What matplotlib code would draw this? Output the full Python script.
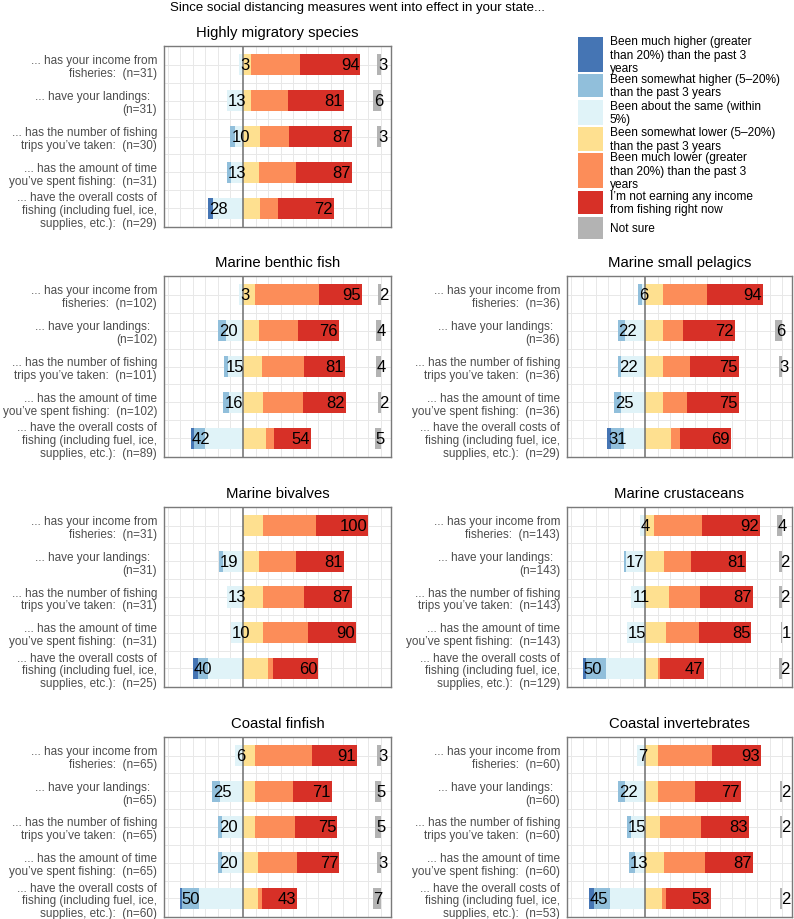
import matplotlib
matplotlib.use('Agg')
import matplotlib.pyplot as plt
from matplotlib.patches import Rectangle
import numpy as np

plt.rcParams['font.family'] = ['Liberation Sans', 'DejaVu Sans']

W, H = 794, 920

main_title = "Since social distancing measures went into effect in your state..."

levels = [
    "Been much higher (greater\nthan 20%) than the past 3\nyears",
    "Been somewhat higher (5\u201320%)\nthan the past 3 years",
    "Been about the same (within\n5%)",
    "Been somewhat lower (5\u201320%)\nthan the past 3 years",
    "Been much lower (greater\nthan 20%) than the past 3\nyears",
    "I\u2019m not earning any income\nfrom fishing right now",
    "Not sure",
]
colors = ['#4575b4', '#91bfdb', '#e0f3f8', '#fee090', '#fc8d59', '#d73027', '#b3b3b3']

questions = [
    "... has your income from\nfisheries:  (n={})",
    "... have your landings:  \n(n={})",
    "... has the number of fishing\ntrips you\u2019ve taken:  (n={})",
    "... has the amount of time\nyou\u2019ve spent fishing:  (n={})",
    "... have the overall costs of\nfishing (including fuel, ice,\nsupplies, etc.):  (n={})",
]

panel_titles = ["Highly migratory species", "Marine benthic fish", "Marine small pelagics",
                "Marine bivalves", "Marine crustaceans", "Coastal finfish", "Coastal invertebrates"]

# n per question, per panel
n_hm = [31, 31, 30, 31, 29]
n_mbf = [102, 102, 101, 102, 89]
n_msp = [36, 36, 36, 36, 29]
n_mb = [31, 31, 31, 31, 25]
n_mc = [143, 143, 143, 143, 129]
n_cf = [65, 65, 65, 65, 60]
n_ci = [60, 60, 60, 60, 53]

# percentages: much higher, somewhat higher, same, somewhat lower, much lower, not earning, not sure
pct_hm = [
    [0, 0, 3.2, 6.5, 38.7, 48.4, 3.2],
    [0, 0, 12.9, 6.5, 29.0, 45.2, 6.4],
    [0, 3.3, 6.7, 13.3, 23.3, 50.0, 3.3],
    [0, 3.2, 9.7, 12.9, 29.0, 45.2, 0],
    [3.4, 0, 24.2, 13.8, 13.8, 44.8, 0],
]
pct_mbf = [
    [0, 0, 2.9, 9.8, 51.0, 34.3, 2.0],
    [0, 5.9, 13.7, 12.7, 31.4, 32.2, 3.9],
    [0, 3.0, 11.9, 14.9, 33.7, 32.7, 4.0],
    [0, 4.9, 10.8, 15.7, 32.4, 34.0, 2.0],
    [2.2, 9.0, 30.4, 18.0, 6.7, 29.2, 5.0],
]
pct_msp = [
    [0, 2.8, 2.8, 13.9, 36.1, 44.4, 0],
    [0, 5.6, 16.7, 13.9, 16.7, 41.7, 5.6],
    [0, 2.8, 19.4, 13.9, 22.2, 38.9, 2.8],
    [0, 5.6, 19.4, 13.9, 19.4, 41.7, 0],
    [3.4, 10.3, 17.2, 20.7, 6.9, 41.4, 0],
]
pct_mb = [
    [0, 0, 0, 16.1, 41.9, 41.9, 0],
    [0, 3.2, 16.1, 12.9, 29.0, 38.7, 0],
    [0, 0, 12.9, 16.1, 32.3, 38.7, 0],
    [0, 0, 9.7, 16.1, 35.5, 38.7, 0],
    [4.0, 8.0, 28.0, 20.0, 4.0, 36.0, 0],
]
pct_mc = [
    [0, 0, 4.2, 7.0, 38.5, 46.9, 4.2],
    [0, 1.4, 15.4, 14.7, 21.7, 44.8, 2.1],
    [0, 0, 11.2, 18.9, 25.2, 42.7, 2.1],
    [0, 0, 15.0, 16.8, 26.6, 42.0, 0.7],
    [2.3, 16.3, 31.8, 10.1, 1.6, 35.7, 2.3],
]
pct_cf = [
    [0, 0, 6.2, 9.2, 46.2, 35.4, 3.1],
    [0, 6.2, 18.5, 9.2, 30.8, 30.8, 4.6],
    [0, 3.1, 16.9, 9.2, 32.3, 33.8, 4.6],
    [0, 3.1, 16.9, 12.3, 30.8, 33.8, 3.1],
    [1.7, 13.3, 35.0, 11.7, 3.3, 28.3, 6.7],
]
pct_ci = [
    [0, 0, 6.7, 10.0, 43.3, 40.0, 0],
    [0, 5.0, 16.7, 10.0, 30.0, 36.7, 1.7],
    [0, 3.3, 11.7, 11.7, 33.3, 38.3, 1.7],
    [0, 5.0, 8.3, 15.0, 33.3, 38.3, 0],
    [3.8, 13.2, 28.3, 13.2, 3.8, 35.8, 1.9],
]

panels = [
    (pct_hm, n_hm, 0, 0),
    (pct_mbf, n_mbf, 1, 0),
    (pct_msp, n_msp, 1, 1),
    (pct_mb, n_mb, 2, 0),
    (pct_mc, n_mc, 2, 1),
    (pct_cf, n_cf, 3, 0),
    (pct_ci, n_ci, 3, 1),
]

col_x = [(164, 391), (567, 792)]
row_y = [(47, 228), (277, 458), (508, 688), (738, 918)]

NS_POS = 110
XLIM = (-63, 118)

fig = plt.figure(figsize=(W / 100, H / 100), dpi=100)

bg = fig.add_axes([0, 0, 1, 1])
bg.set_xlim(0, W)
bg.set_ylim(H, 0)
bg.axis('off')

fig.text(357.5 / W, 1 - 7.5 / H, main_title, ha='center', va='center', fontsize=9.5)

for (pct, nn, r, c), title in zip(panels, panel_titles):
    x0, x1 = col_x[c]
    yt, yb = row_y[r]
    ax = fig.add_axes([x0 / W, 1 - yb / H, (x1 - x0) / W, (yb - yt) / H])
    ax.set_xlim(*XLIM)
    ax.set_ylim(4.52, -0.52)
    for gx in range(-60, 120, 10):
        if gx != 0:
            ax.axvline(gx, color='#e8e8e8', lw=0.7, zorder=0)
    for gy in np.arange(0, 4.01, 0.5):
        ax.axhline(gy, color='#e8e8e8', lw=0.7, zorder=0)
    for i, vals in enumerate(pct):
        x = 0.0
        for k in [2, 1, 0]:
            if vals[k] > 0:
                ax.barh(i, -vals[k], left=x, height=0.6, color=colors[k], lw=0, zorder=1)
            x -= vals[k]
        x = 0.0
        for k in [3, 4, 5]:
            if vals[k] > 0:
                ax.barh(i, vals[k], left=x, height=0.6, color=colors[k], lw=0, zorder=1)
            x += vals[k]
        if vals[6] > 0:
            ax.barh(i, vals[6], left=NS_POS - vals[6], height=0.6, color=colors[6], lw=0, zorder=1)
        lt = vals[0] + vals[1] + vals[2]
        rt = vals[3] + vals[4] + vals[5]
        if round(lt) > 0:
            ax.text(-lt + 0.8, i, str(int(round(lt))), ha='left', va='center', fontsize=12, zorder=3)
        if round(rt) > 0:
            ax.text(rt - 0.8, i, str(int(round(rt))), ha='right', va='center', fontsize=12, zorder=3)
        if round(vals[6]) > 0:
            ax.text(NS_POS - vals[6] + 0.8, i, str(int(round(vals[6]))), ha='left', va='center',
                    fontsize=12, zorder=3)
    ax.axvline(0, color='#6e6e6e', lw=1.1, zorder=2)
    ax.set_xticks([])
    ax.set_yticks(range(5))
    ax.set_yticklabels([q.format(n) for q, n in zip(questions, nn)], fontsize=8.5, color='#4d4d4d')
    for t in ax.get_yticklabels():
        t.set_linespacing(1.08)
    ax.tick_params(axis='y', length=0, pad=5)
    for s in ax.spines.values():
        s.set_color('#7a7a7a')
        s.set_linewidth(1.0)
    fig.text((x0 + x1) / 2 / W, 1 - (yt - 14) / H, title, ha='center', va='center', fontsize=10.7)

# legend
key_spans = [(38, 73), (75, 98), (101, 126), (128, 152), (154, 189), (192, 215), (218, 240)]
for (ya, yb2), lab, col in zip(key_spans, levels, colors):
    bg.add_patch(Rectangle((578, ya), 25, yb2 - ya, color=col, lw=0))
    bg.text(610, (ya + yb2) / 2, lab, ha='left', va='center', fontsize=8.6, linespacing=1.17)

fig.savefig('out.png', dpi=100)
